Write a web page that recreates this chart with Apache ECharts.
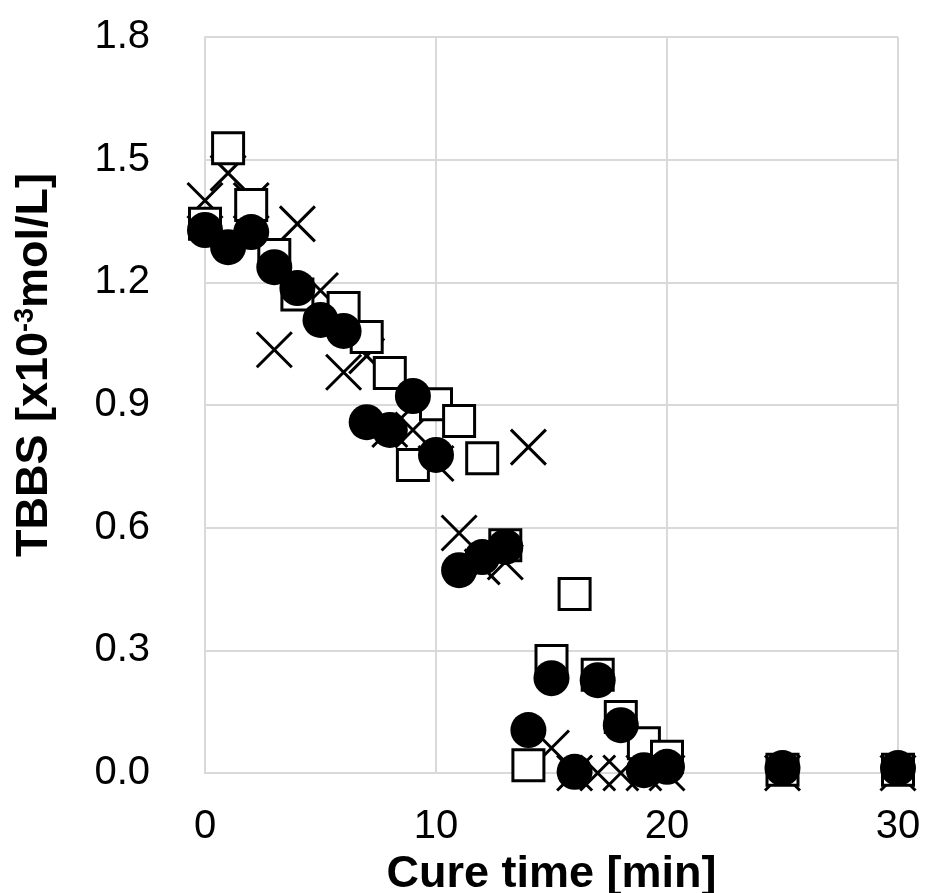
<!DOCTYPE html>
<html>
<head>
<meta charset="utf-8">
<script src="https://cdn.jsdelivr.net/npm/echarts@6/dist/echarts.min.js"></script>
<style>html,body{margin:0;padding:0;background:#fff}#c{width:926px;height:893px}</style>
</head>
<body>
<div id="c"></div>
<script>
const xTicks = [0, 10, 20, 30];
const yTicks = [0.0, 0.3, 0.6, 0.9, 1.2, 1.5, 1.8];

const crossData = [[0,1.40],[1,1.467],[2,1.40],[3,1.035],[4,1.343],[5,1.18],[6,0.98],[7,1.02],[8,0.84],[9,0.839],[10,0.757],[11,0.587],[12,0.504],[13,0.516],[14,0.797],[15,0.061],[16,0],[17,0],[18,0],[19,0],[20,0],[25,0],[30,0]];
const squareData = [[0,1.343],[1,1.528],[2,1.389],[3,1.267],[4,1.17],[6,1.137],[7,1.066],[8,0.978],[9,0.753],[10,0.902],[11,0.861],[12,0.770],[13,0.557],[14,0.019],[15,0.274],[16,0.438],[17,0.24],[18,0.137],[19,0.073],[20,0.04],[25,0.008],[30,0.008]];
const circleData = [[0,1.328],[1,1.286],[2,1.323],[3,1.237],[4,1.186],[5,1.108],[6,1.081],[7,0.858],[8,0.839],[9,0.922],[10,0.778],[11,0.496],[12,0.528],[13,0.553],[14,0.105],[15,0.232],[16,0.003],[17,0.227],[18,0.117],[19,0.007],[20,0.015],[25,0.012],[30,0.012]];

const FONT = 'Liberation Sans';
const chart = echarts.init(document.getElementById('c'), null, {renderer: 'canvas'});
chart.setOption({
  animation: false,
  backgroundColor: '#fff',
  grid: {left: 205, right: 28, top: 37, bottom: 120, containLabel: false, outerBoundsMode: 'none'},
  xAxis: {
    type: 'value', min: xTicks[0], max: xTicks[xTicks.length-1], interval: 10,
    name: 'Cure time [min]', nameLocation: 'middle', nameGap: 56,
    nameTextStyle: {fontFamily: FONT, fontWeight: 'bold', fontSize: 45, color: '#000'},
    axisLine: {show: true, lineStyle: {color: '#d9d9d9', width: 2}},
    axisTick: {show: false},
    axisLabel: {margin: 34, fontFamily: FONT, fontSize: 40, color: '#000'},
    splitLine: {show: true, lineStyle: {color: '#d9d9d9', width: 2}}
  },
  yAxis: {
    type: 'value', min: yTicks[0], max: yTicks[yTicks.length-1], interval: 0.3,
    name: 'TBBS [x10{sup|-3}mol/L]', nameLocation: 'middle', nameGap: 148,
    nameTextStyle: {fontFamily: FONT, fontWeight: 'bold', fontSize: 45, color: '#000',
      padding: [0, 0, 0, 80],
      rich: {sup: {fontFamily: FONT, fontWeight: 'bold', fontSize: 27, color: '#000', verticalAlign: 'top'}}},
    axisLine: {show: true, lineStyle: {color: '#d9d9d9', width: 2}},
    axisTick: {show: false},
    axisLabel: {margin: 55, fontFamily: FONT, fontSize: 40, color: '#000', formatter: v => v.toFixed(1)},
    splitLine: {show: true, lineStyle: {color: '#d9d9d9', width: 2}}
  },
  series: [
    {type: 'scatter', name: 'cross', data: crossData, clip: false, z: 2,
     symbol: 'path://M0,0L10,10M10,0L0,10', symbolSize: 35,
     itemStyle: {color: 'none', borderColor: '#000', borderWidth: 3, opacity: 1}},
    {type: 'scatter', name: 'square', data: squareData, clip: false, z: 3,
     symbol: 'rect', symbolSize: 31,
     itemStyle: {color: '#fff', borderColor: '#000', borderWidth: 3, opacity: 1}},
    {type: 'scatter', name: 'circle', data: circleData, clip: false, z: 4,
     symbol: 'circle', symbolSize: 36,
     itemStyle: {color: '#000', borderWidth: 0, opacity: 1}}
  ]
});
</script>
</body>
</html>
